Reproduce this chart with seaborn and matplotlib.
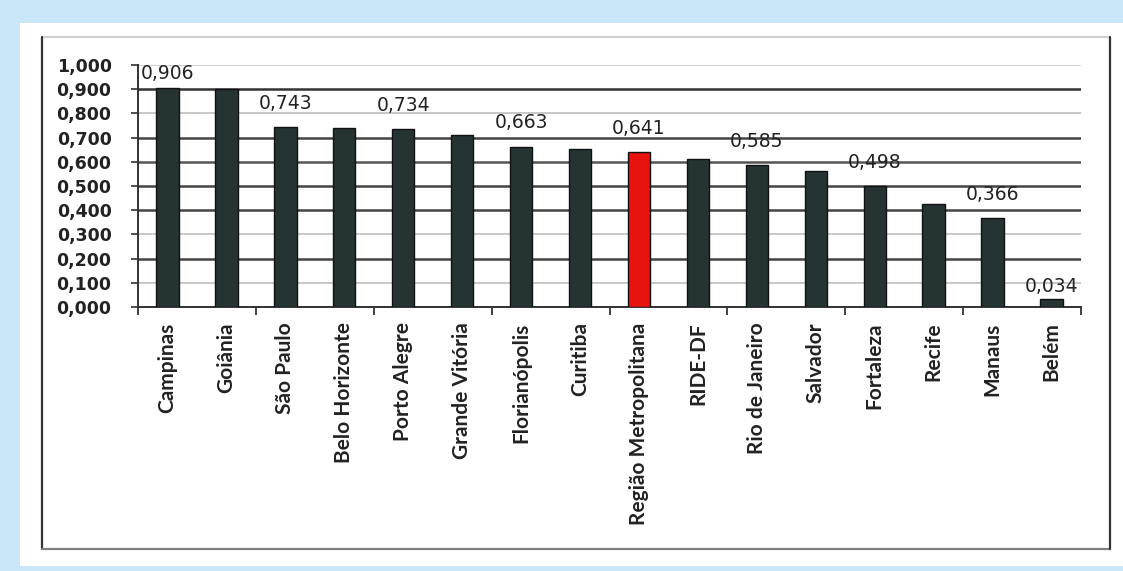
import numpy as np
import pandas as pd
import matplotlib
matplotlib.use("Agg")
import matplotlib.pyplot as plt
from matplotlib.patches import Rectangle
from matplotlib.lines import Line2D
import seaborn as sns

# data
regioes = ["Campinas", "Goiânia", "São Paulo", "Belo Horizonte", "Porto Alegre",
           "Grande Vitória", "Florianópolis", "Curitiba", "Região Metropolitana",
           "RIDE-DF", "Rio de Janeiro", "Salvador", "Fortaleza", "Recife",
           "Manaus", "Belém"]
indice = [0.906, 0.900, 0.743, 0.739, 0.734, 0.710, 0.663, 0.652, 0.641,
          0.613, 0.585, 0.562, 0.498, 0.427, 0.366, 0.034]
rotulados = ["Campinas", "São Paulo", "Porto Alegre", "Florianópolis",
             "Região Metropolitana", "Rio de Janeiro", "Fortaleza", "Manaus", "Belém"]
destaque = "Região Metropolitana"
y_ticks = [0.0, 0.1, 0.2, 0.3, 0.4, 0.5, 0.6, 0.7, 0.8, 0.9, 1.0]

df = pd.DataFrame({"regiao": regioes, "indice": indice})

W, H = 1123, 571
sns.set_style("white")
plt.rcParams["font.family"] = ["DejaVu Sans"]

fig = plt.figure(figsize=(W / 100, H / 100), dpi=100)
fig.patch.set_facecolor("#c9e7f9")

# white panel and the inner chart frame
fig.add_artist(Rectangle((20 / W, 1 - 566 / H), (W - 20) / W, (566 - 23) / H,
                         transform=fig.transFigure, facecolor="white", edgecolor="none", zorder=0))
def fline(x0, y0, x1, y1, color, lw):
    fig.add_artist(Line2D([x0 / W, x1 / W], [1 - y0 / H, 1 - y1 / H],
                          transform=fig.transFigure, color=color, lw=lw))
fline(42, 37, 1110, 37, "#d0d0d0", 1.5)
fline(42, 37, 42, 549, "#333333", 1.6)
fline(42, 549, 1110, 549, "#808080", 1.6)
fline(1110, 37, 1110, 549, "#333333", 1.6)

ax = fig.add_axes([138 / W, 1 - 307 / H, (1081 - 138) / W, (307 - 65) / H])
ax.set_facecolor("white")

cores = ["#e8120f" if r == destaque else "#263333" for r in regioes]
sns.barplot(data=df, x="regiao", y="indice", hue="regiao", palette=cores,
            legend=False, width=0.38, edgecolor="#111111", linewidth=1.0,
            saturation=1, ax=ax, zorder=3)

ax.set_ylim(0, 1.0)
ax.set_xlim(-0.5, len(regioes) - 0.5)
ax.set_yticks(y_ticks)
ax.set_yticklabels([f"{v:.3f}".replace(".", ",") for v in y_ticks],
                   fontsize=12.5, fontweight="bold", color="#222222")
ax.tick_params(axis="y", left=True, length=5, width=1.2, color="#333333", pad=14)

# category names on minor ticks, tick marks every two categories on major
ax.set_xticks(np.arange(-0.5, len(regioes), 2))
ax.set_xticklabels([])
ax.tick_params(axis="x", which="major", bottom=True, length=6, width=1.3, color="#333333")
ax.set_xticks(range(len(regioes)), minor=True)
ax.set_xticklabels(regioes, minor=True, rotation=90, fontsize=15, fontweight="bold",
                   color="#222222", family="Lato", va="top")
ax.tick_params(axis="x", which="minor", length=0, pad=11)

ax.set_xlabel(None)
ax.set_ylabel(None)

# gridlines with the alternating look of the original
ax.yaxis.grid(True, zorder=0)
ax.set_axisbelow(True)
grid_cores = ["#333333", "#c8c8c8", "#444444", "#c8c8c8", "#444444", "#444444",
              "#555555", "#444444", "#c8c8c8", "#333333", "#d0d0d0"]
for g, c in zip(ax.get_ygridlines(), grid_cores):
    g.set_color(c)
    g.set_linewidth(1.4 if c in ("#c8c8c8", "#d0d0d0") else 1.8)

for s in ["top", "right"]:
    ax.spines[s].set_visible(False)
ax.spines["left"].set_color("#333333")
ax.spines["left"].set_linewidth(1.4)
ax.spines["bottom"].set_color("#333333")
ax.spines["bottom"].set_linewidth(1.4)

# value labels floating above selected bars
desloc = {"Campinas": 10, "Belém": 9}
for i, (r, v) in enumerate(zip(regioes, indice)):
    if r in rotulados:
        ax.annotate(f"{v:.3f}".replace(".", ","), (i, v),
                    xytext=(0, desloc.get(r, 17)), textcoords="offset points",
                    ha="center", va="center", fontsize=13.5, color="#222222",
                    zorder=5, annotation_clip=False)

fig.savefig("out.png", dpi=100, facecolor=fig.get_facecolor())
